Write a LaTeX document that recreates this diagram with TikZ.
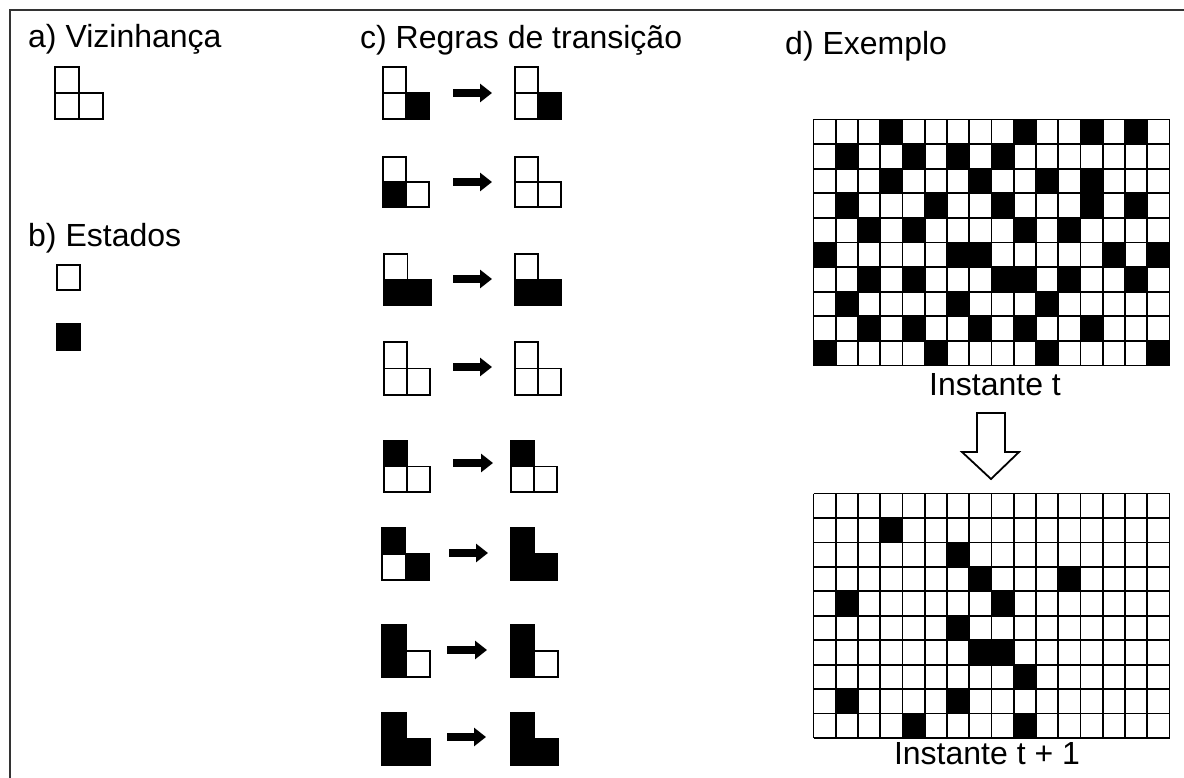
\documentclass[tikz,border=0pt]{standalone}
\usepackage{fontspec}
\setmainfont{Liberation Sans}
\usetikzlibrary{arrows.meta}
\tikzset{
  wcell/.style={draw=black, fill=white, line width=1.8pt},
  bcell/.style={draw=black, fill=black, line width=1.8pt},
  lbl/.style={anchor=base west, inner sep=0pt, font=\fontsize{32}{38}\selectfont},
  clbl/.style={anchor=base, inner sep=0pt, font=\fontsize{32}{38}\selectfont},
  gridline/.style={draw=black, line width=1.8pt},
  rulearrow/.style={line width=8pt, -{Triangle[length=12pt,width=18pt]}},
  frame/.style={draw=black!80, line width=2.5pt},
  hollowarrow/.style={draw=black, fill=white, line width=1.8pt, line join=miter}
}
% x y w h top bottom-left bottom-right
\newcommand\lcells[7]{%
  \path[#5] (#1,#2) rectangle ++(#3,#4);
  \path[#6] (#1,#2+#4) rectangle ++(#3,#4);
  \path[#7] (#1+#3,#2+#4) rectangle ++(#3,#4);
}
\begin{document}
\begin{tikzpicture}[x=1pt,y=-1pt]
\useasboundingbox (0,0) rectangle (1184,778);
\fill[white] (0,0) rectangle (1184,778);
\draw[frame] (10,778) -- (10,10) -- (1184,10);

% titles
\node[lbl] (ta) at (28,48) {a) Vizinhança};
\node[lbl] (tb) at (28,247) {b) Estados};
\node[lbl] (tc) at (360,49) {c) Regras de transição};
\node[lbl] (td) at (785,55) {d) Exemplo};

% a) neighbourhood
\lcells{55}{67}{24}{26}{wcell}{wcell}{wcell}

% b) states
\path[wcell] (57,265) rectangle (80,290);
\path[bcell] (57,324) rectangle (80,350);

% c) transition rules
\lcells{383}{67}{23}{26}{wcell}{wcell}{bcell}
\lcells{515}{67}{23}{26}{wcell}{wcell}{bcell}
\coordinate (a1s) at (453,93); \coordinate (a1e) at (492,93);

\lcells{383}{157}{23}{25}{wcell}{bcell}{wcell}
\lcells{515}{157}{23}{25}{wcell}{wcell}{wcell}
\coordinate (a2s) at (453,182); \coordinate (a2e) at (492,182);

\lcells{384}{254}{23.5}{25.5}{wcell}{bcell}{bcell}
\lcells{515}{254}{23}{25.5}{wcell}{bcell}{bcell}
\coordinate (a3s) at (453,279); \coordinate (a3e) at (492,279);

\lcells{384}{342}{23}{26.5}{wcell}{wcell}{wcell}
\lcells{515}{342}{23}{26.5}{wcell}{wcell}{wcell}
\coordinate (a4s) at (453,367); \coordinate (a4e) at (492,367);

\lcells{384}{441}{23}{25.5}{bcell}{wcell}{wcell}
\lcells{511}{441}{23}{25.5}{bcell}{wcell}{wcell}
\coordinate (a5s) at (453,463); \coordinate (a5e) at (493,463);

\lcells{382}{528}{23.5}{26}{bcell}{wcell}{bcell}
\lcells{511}{528}{23}{26}{bcell}{bcell}{bcell}
\coordinate (a6s) at (449,553); \coordinate (a6e) at (488,553);

\lcells{382}{625}{24}{26}{bcell}{bcell}{wcell}
\lcells{511}{625}{23.5}{26}{bcell}{bcell}{wcell}
\coordinate (a7s) at (447,650); \coordinate (a7e) at (487,650);

\lcells{382}{713}{24}{26}{bcell}{bcell}{bcell}
\lcells{511}{713}{23.5}{26}{bcell}{bcell}{bcell}
\coordinate (a8s) at (447,737); \coordinate (a8e) at (486,737);

\foreach \i in {1,...,8} \draw[rulearrow] (a\i s) -- (a\i e);

% d) example grid at instant t
\begin{scope}[shift={(813.5,119.5)}]
  \fill[white] (0,0) rectangle (356,246);
  \foreach \c/\r in {3/0,9/0,12/0,14/0,
                     1/1,4/1,6/1,8/1,
                     3/2,7/2,10/2,12/2,
                     1/3,5/3,8/3,12/3,14/3,
                     2/4,4/4,9/4,11/4,
                     0/5,6/5,7/5,13/5,15/5,
                     2/6,4/6,8/6,9/6,11/6,14/6,
                     1/7,6/7,10/7,
                     2/8,4/8,7/8,9/8,12/8,
                     0/9,5/9,10/9,15/9}
    \fill[black] (\c*22.25,\r*24.6) rectangle ++(22.25,24.6);
  \foreach \c in {0,...,16} \draw[gridline] (\c*22.25,0) -- ++(0,246);
  \foreach \r in {0,...,10} \draw[gridline] (0,\r*24.6) -- ++(356,0);
\end{scope}
\node[clbl] (tt) at (995,395) {Instante t};

% hollow arrow
\draw[hollowarrow] (977,413) -- (1005,413) -- (1005,452) -- (1019,452) -- (991,479) -- (962,452) -- (977,452) -- cycle;

% d) example grid at instant t+1
\begin{scope}[shift={(813.5,493.5)}]
  \fill[white] (0,0) rectangle (356,244.5);
  \foreach \c/\r in {3/1, 6/2, 7/3,11/3, 1/4,8/4, 6/5, 7/6,8/6, 9/7, 1/8,6/8, 4/9,9/9}
    \fill[black] (\c*22.25,\r*24.45) rectangle ++(22.25,24.45);
  \foreach \c in {0,...,16} \draw[gridline] (\c*22.25,0) -- ++(0,244.5);
  \foreach \r in {0,...,10} \draw[gridline] (0,\r*24.45) -- ++(356,0);
\end{scope}
\node[clbl] (tt1) at (987,764) {Instante t + 1};
\end{tikzpicture}
\end{document}
